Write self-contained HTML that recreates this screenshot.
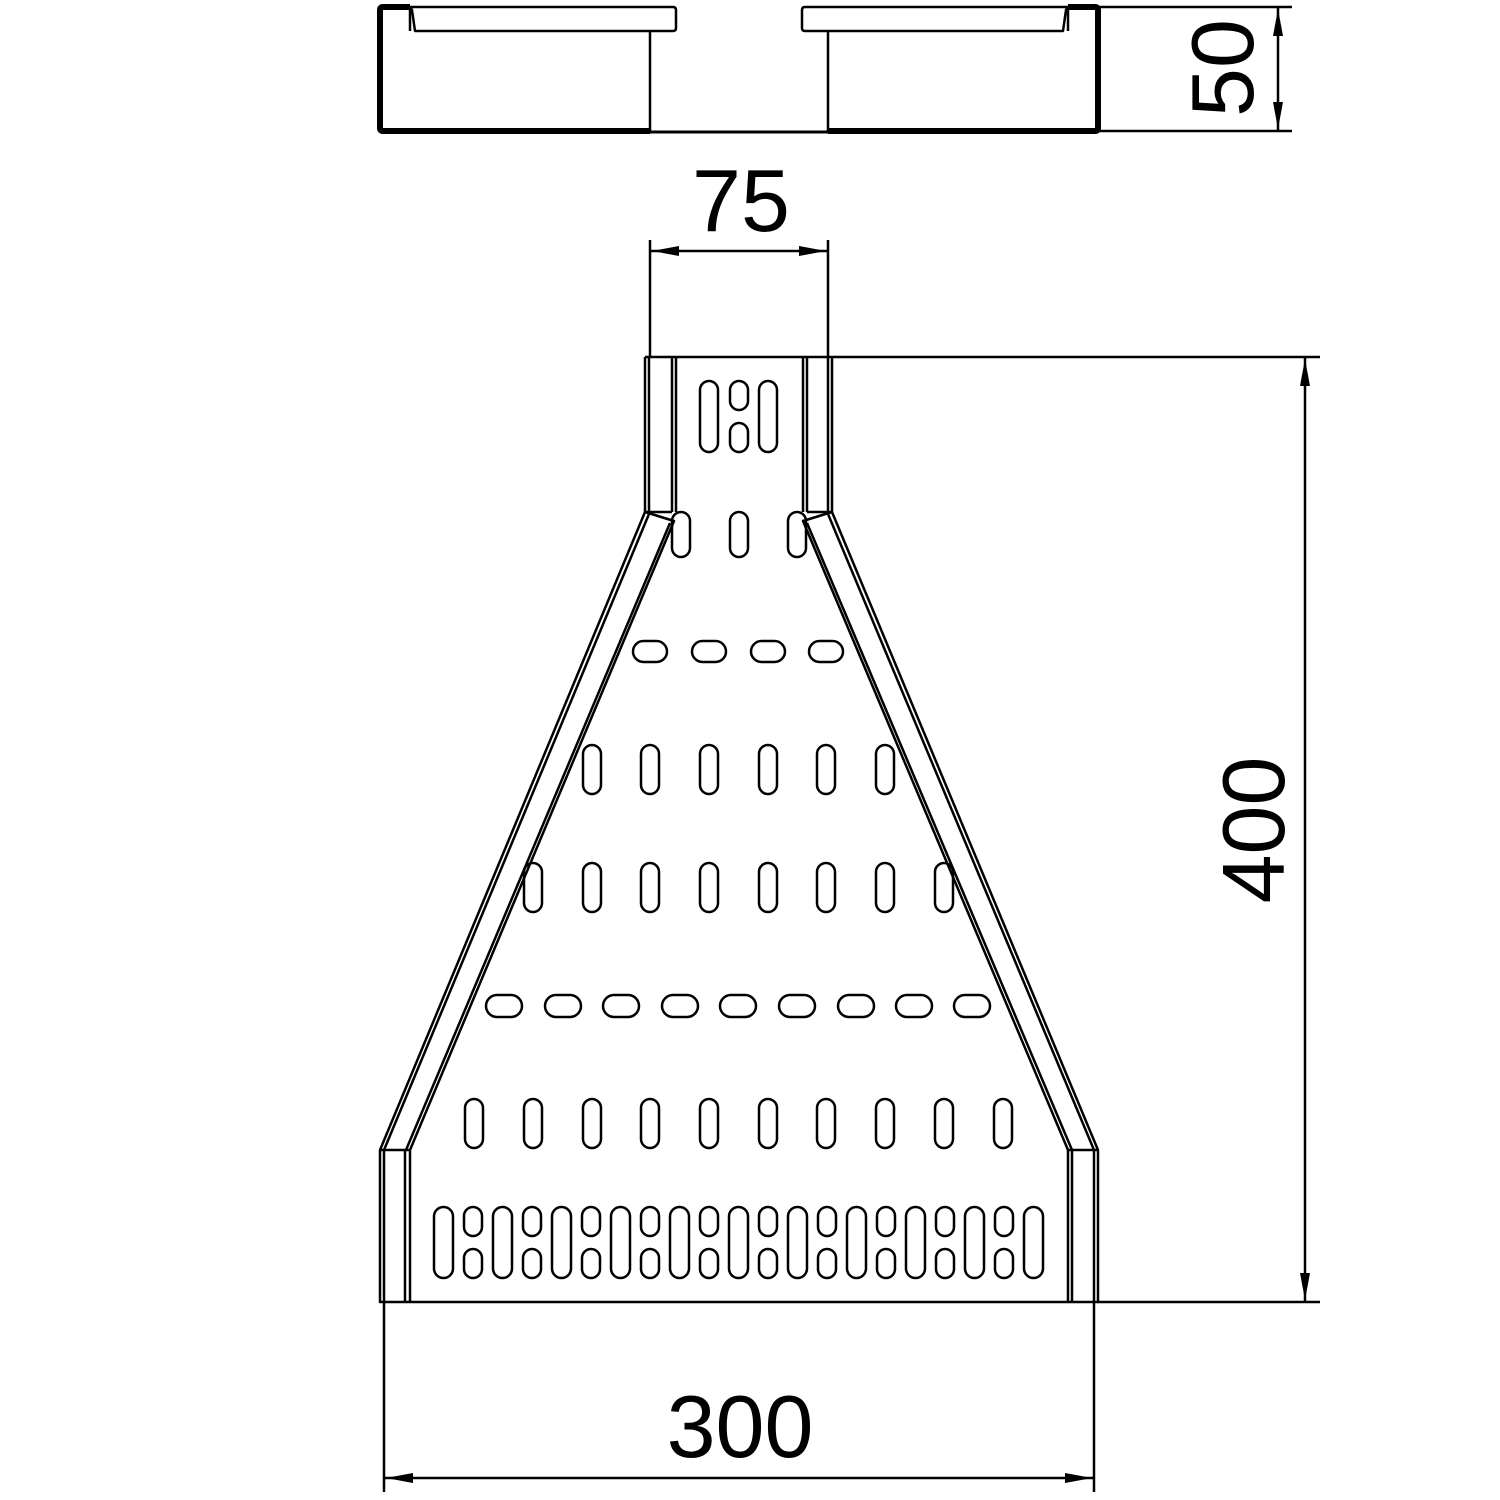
<!DOCTYPE html>
<html><head><style>html,body{margin:0;padding:0;background:#fff}svg{display:block}</style></head>
<body>
<svg width="1500" height="1500" viewBox="0 0 1500 1500" xmlns="http://www.w3.org/2000/svg" font-family="Liberation Sans, sans-serif">
<g fill="none" stroke="#000" stroke-width="2.5" stroke-linejoin="round">
<path d="M650,131 L383,131 Q380,131 380,128 L380,10 Q380,7 383,7 L410,7" stroke-width="6"/>
<path d="M828,131 L1095,131 Q1098,131 1098,128 L1098,10 Q1098,7 1095,7 L1068,7" stroke-width="6"/>
<line x1="650" y1="132" x2="828" y2="132" stroke-width="3"/>
<line x1="650" y1="30" x2="650" y2="131"/>
<line x1="828" y1="30" x2="828" y2="131"/>
<path d="M410,7 L673,7 Q676,7 676,10 L676,28 Q676,31 673,31 L415,31 L412,10 Z M410,7 L410,31" stroke-width="2.5"/>
<path d="M1068,7 L805,7 Q802,7 802,10 L802,28 Q802,31 805,31 L1063,31 L1066,10 Z M1068,7 L1068,31" stroke-width="2.5"/>
<line x1="1098" y1="7" x2="1292" y2="7"/>
<line x1="1098" y1="131" x2="1292" y2="131"/>
<line x1="1278" y1="7" x2="1278" y2="131"/>
<line x1="650" y1="240" x2="650" y2="357"/>
<line x1="828" y1="240" x2="828" y2="357"/>
<line x1="650" y1="251" x2="828" y2="251"/>
<line x1="645" y1="357" x2="1320" y2="357"/>
<path d="M645,357 L645,512 L380,1150 L380,1302 L1098,1302 L1098,1150 L832,512 L832,357"/>
<line x1="649" y1="357" x2="649" y2="512"/>
<line x1="672" y1="357" x2="672" y2="512"/>
<line x1="676" y1="357" x2="676" y2="512"/>
<line x1="803" y1="357" x2="803" y2="512"/>
<line x1="807" y1="357" x2="807" y2="512"/>
<line x1="828" y1="357" x2="828" y2="512"/>
<line x1="645" y1="512" x2="672" y2="512"/>
<line x1="807" y1="512" x2="832" y2="512"/>
<path d="M645,512 L674,521 L410,1150"/>
<path d="M649,514 L384,1150"/>
<path d="M670,523 L406,1150"/>
<path d="M832,512 L803,521 L1068,1150"/>
<path d="M828,514 L1094,1150"/>
<path d="M807,523 L1072,1150"/>
<line x1="380" y1="1150" x2="410" y2="1150"/>
<line x1="1068" y1="1150" x2="1098" y2="1150"/>
<line x1="384" y1="1150" x2="384" y2="1302"/>
<line x1="405" y1="1150" x2="405" y2="1302"/>
<line x1="410" y1="1150" x2="410" y2="1302"/>
<line x1="1068" y1="1150" x2="1068" y2="1302"/>
<line x1="1072" y1="1150" x2="1072" y2="1302"/>
<line x1="1094" y1="1150" x2="1094" y2="1302"/>
<line x1="1098" y1="1302" x2="1320" y2="1302"/>
<line x1="1305" y1="357" x2="1305" y2="1302"/>
<line x1="384" y1="1302" x2="384" y2="1492"/>
<line x1="1094" y1="1302" x2="1094" y2="1492"/>
<line x1="384" y1="1478" x2="1094" y2="1478"/>
<rect x="700" y="381" width="18" height="71" rx="9"/>
<rect x="730" y="381" width="18" height="29" rx="9"/>
<rect x="730" y="423" width="18" height="29" rx="9"/>
<rect x="759" y="381" width="18" height="71" rx="9"/>
<rect x="672" y="512" width="18" height="45" rx="9"/>
<rect x="730" y="512" width="18" height="45" rx="9"/>
<rect x="788" y="512" width="18" height="45" rx="9"/>
<rect x="633" y="641" width="34" height="21" rx="10.5"/>
<rect x="692" y="641" width="34" height="21" rx="10.5"/>
<rect x="751" y="641" width="34" height="21" rx="10.5"/>
<rect x="809" y="641" width="34" height="21" rx="10.5"/>
<rect x="583" y="745" width="18" height="49" rx="9"/>
<rect x="641" y="745" width="18" height="49" rx="9"/>
<rect x="700" y="745" width="18" height="49" rx="9"/>
<rect x="759" y="745" width="18" height="49" rx="9"/>
<rect x="817" y="745" width="18" height="49" rx="9"/>
<rect x="876" y="745" width="18" height="49" rx="9"/>
<rect x="524" y="863" width="18" height="49" rx="9"/>
<rect x="583" y="863" width="18" height="49" rx="9"/>
<rect x="641" y="863" width="18" height="49" rx="9"/>
<rect x="700" y="863" width="18" height="49" rx="9"/>
<rect x="759" y="863" width="18" height="49" rx="9"/>
<rect x="817" y="863" width="18" height="49" rx="9"/>
<rect x="876" y="863" width="18" height="49" rx="9"/>
<rect x="935" y="863" width="18" height="49" rx="9"/>
<rect x="486" y="995" width="36" height="22" rx="11"/>
<rect x="545" y="995" width="36" height="22" rx="11"/>
<rect x="603" y="995" width="36" height="22" rx="11"/>
<rect x="662" y="995" width="36" height="22" rx="11"/>
<rect x="720" y="995" width="36" height="22" rx="11"/>
<rect x="779" y="995" width="36" height="22" rx="11"/>
<rect x="838" y="995" width="36" height="22" rx="11"/>
<rect x="896" y="995" width="36" height="22" rx="11"/>
<rect x="954" y="995" width="36" height="22" rx="11"/>
<rect x="465" y="1099" width="18" height="49" rx="9"/>
<rect x="524" y="1099" width="18" height="49" rx="9"/>
<rect x="583" y="1099" width="18" height="49" rx="9"/>
<rect x="641" y="1099" width="18" height="49" rx="9"/>
<rect x="700" y="1099" width="18" height="49" rx="9"/>
<rect x="759" y="1099" width="18" height="49" rx="9"/>
<rect x="817" y="1099" width="18" height="49" rx="9"/>
<rect x="876" y="1099" width="18" height="49" rx="9"/>
<rect x="935" y="1099" width="18" height="49" rx="9"/>
<rect x="994" y="1099" width="18" height="49" rx="9"/>
<rect x="434" y="1207" width="19" height="71" rx="9.5"/>
<rect x="464" y="1207" width="18" height="29" rx="9"/><rect x="464" y="1249" width="18" height="29" rx="9"/>
<rect x="493" y="1207" width="19" height="71" rx="9.5"/>
<rect x="523" y="1207" width="18" height="29" rx="9"/><rect x="523" y="1249" width="18" height="29" rx="9"/>
<rect x="552" y="1207" width="19" height="71" rx="9.5"/>
<rect x="582" y="1207" width="18" height="29" rx="9"/><rect x="582" y="1249" width="18" height="29" rx="9"/>
<rect x="611" y="1207" width="19" height="71" rx="9.5"/>
<rect x="641" y="1207" width="18" height="29" rx="9"/><rect x="641" y="1249" width="18" height="29" rx="9"/>
<rect x="670" y="1207" width="19" height="71" rx="9.5"/>
<rect x="700" y="1207" width="18" height="29" rx="9"/><rect x="700" y="1249" width="18" height="29" rx="9"/>
<rect x="729" y="1207" width="19" height="71" rx="9.5"/>
<rect x="759" y="1207" width="18" height="29" rx="9"/><rect x="759" y="1249" width="18" height="29" rx="9"/>
<rect x="788" y="1207" width="19" height="71" rx="9.5"/>
<rect x="818" y="1207" width="18" height="29" rx="9"/><rect x="818" y="1249" width="18" height="29" rx="9"/>
<rect x="847" y="1207" width="19" height="71" rx="9.5"/>
<rect x="877" y="1207" width="18" height="29" rx="9"/><rect x="877" y="1249" width="18" height="29" rx="9"/>
<rect x="906" y="1207" width="19" height="71" rx="9.5"/>
<rect x="936" y="1207" width="18" height="29" rx="9"/><rect x="936" y="1249" width="18" height="29" rx="9"/>
<rect x="965" y="1207" width="19" height="71" rx="9.5"/>
<rect x="995" y="1207" width="18" height="29" rx="9"/><rect x="995" y="1249" width="18" height="29" rx="9"/>
<rect x="1024" y="1207" width="19" height="71" rx="9.5"/>
</g>
<g fill="#000">
<path d="M1278,9 L1273,36 L1283,36 Z"/>
<path d="M1278,129 L1273,102 L1283,102 Z"/>
<path d="M652,251 L679,246 L679,256 Z"/>
<path d="M826,251 L799,246 L799,256 Z"/>
<path d="M1305,359 L1300,386 L1310,386 Z"/>
<path d="M1305,1300 L1300,1273 L1310,1273 Z"/>
<path d="M386,1478 L413,1473 L413,1483 Z"/>
<path d="M1092,1478 L1065,1473 L1065,1483 Z"/>
</g>
<g fill="#000" font-size="88">
<text x="741" y="231" text-anchor="middle">75</text>
<text x="740" y="1457" text-anchor="middle">300</text>
<text transform="translate(1253,68) rotate(-90)" text-anchor="middle">50</text>
<text transform="translate(1284,830) rotate(-90)" text-anchor="middle">400</text>
</g>
</svg>
</body></html>
